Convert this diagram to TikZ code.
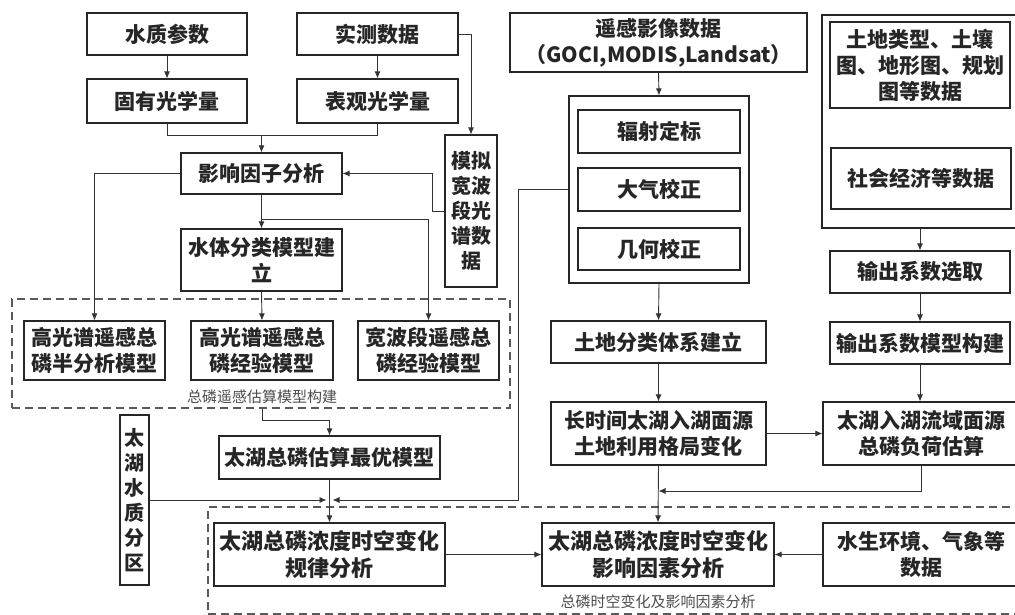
\documentclass[tikz,border=0pt]{standalone}
\usepackage{fontspec}
\setmainfont{Noto Sans CJK SC}
\usetikzlibrary{arrows.meta}
\tikzset{
  bx/.style={draw=black!85, line width=1.1pt, inner sep=0pt, align=center, text=black!85,
    font=\fontsize{21}{26}\selectfont\bfseries},
  bigt/.style={font=\fontsize{22}{27}\selectfont\bfseries},
  vt/.style={font=\fontsize{20}{25}\selectfont\bfseries},
  dbox/.style={draw=black!65, line width=1.1pt, dash pattern=on 8pt off 5pt, inner sep=0pt},
  lab/.style={font=\fontsize{15}{18}\selectfont, text=black!70, inner sep=0pt},
  ln/.style={draw=black!80, line width=0.9pt},
  arr/.style={ln, -{Latex[length=7pt,width=6pt]}},
}
\begin{document}
\begin{tikzpicture}[x=1pt,y=-1pt]
\useasboundingbox (0,0) rectangle (1015,615);
\clip (0,0) rectangle (1015,615);
\fill[white] (0,0) rectangle (1015,615);
% dashed groups
\node[dbox, minimum width=498, minimum height=109] (db1) at (261,353.5) {};
\node[lab] (lab1) at (262,397) {总磷遥感估算模型构建};
\node[dbox, minimum width=822, minimum height=107] (db2) at (619,560.5) {};
\node[lab] (lab2) at (658,602) {总磷时空变化及影响因素分析};
% left column
\node[bx, minimum width=160, minimum height=42] (sz) at (167,34) {水质参数};
\node[bx, minimum width=161, minimum height=42] (sc) at (377.5,34) {实测数据};
\node[bx, minimum width=160, minimum height=44] (gy) at (167,101) {固有光学量};
\node[bx, minimum width=161, minimum height=44] (bg) at (377.5,101) {表观光学量};
\node[bx, minimum width=161, minimum height=41] (yx) at (261.5,173.5) {影响因子分析};
\node[bx, vt, minimum width=52, minimum height=152] (mn) at (471,211) {模拟\\宽波\\段光\\谱数\\据};
\node[bx, minimum width=161, minimum height=62] (st) at (261.5,260) {水体分类模型建\\立};
\node[bx, minimum width=141, minimum height=59] (m1) at (94.5,350.5) {高光谱遥感总\\磷半分析模型};
\node[bx, minimum width=142, minimum height=59] (m2) at (262,350.5) {高光谱遥感总\\磷经验模型};
\node[bx, minimum width=141, minimum height=59] (m3) at (428.5,350.5) {宽波段遥感总\\磷经验模型};
\node[bx, minimum width=221, minimum height=43] (qf) at (329.5,457.5) {太湖总磷估算最优模型};
\node[bx, vt, minimum width=29, minimum height=170] (tq) at (134.5,500) {太\\湖\\水\\质\\分\\区};
\node[bx, bigt, minimum width=231, minimum height=63] (fw) at (329.5,554.5) {太湖总磷浓度时空变化\\规律分析};
% middle column
\node[bx, minimum width=297, minimum height=59] (rs) at (658.5,42.5) {遥感影像数据\\（GOCI,MODIS,Landsat）};
\node[bx, minimum width=180, minimum height=187] (ob) at (659,189.5) {};
\node[bx, minimum width=162, minimum height=43] (p1) at (659,131.5) {辐射定标};
\node[bx, minimum width=162, minimum height=43] (p2) at (659,189.5) {大气校正};
\node[bx, minimum width=162, minimum height=42] (p3) at (659,249) {几何校正};
\node[bx, minimum width=215, minimum height=42] (ld) at (658.5,342) {土地分类体系建立};
\node[bx, minimum width=215, minimum height=63] (lc) at (658.5,433.5) {长时间太湖入湖面源\\土地利用格局变化};
\node[bx, bigt, minimum width=232, minimum height=63] (yf) at (658,554.5) {太湖总磷浓度时空变化\\影响因素分析};
% right column
\node[bx, minimum width=208, minimum height=213] (rb) at (926,121.5) {};
\node[bx, minimum width=180, minimum height=86] (tt) at (920,65) {土地类型、土壤\\图、地形图、规划\\图等数据};
\node[bx, minimum width=180, minimum height=61] (sh) at (921,178.5) {社会经济等数据};
\node[bx, minimum width=180, minimum height=42] (oc1) at (920,272) {输出系数选取};
\node[bx, minimum width=180, minimum height=42] (oc2) at (920,343) {输出系数模型构建};
\node[bx, minimum width=197, minimum height=63] (tl) at (921.5,433.5) {太湖入湖流域面源\\总磷负荷估算};
\node[bx, minimum width=197, minimum height=63] (sw) at (921.5,554.5) {水生环境、气象等\\数据};
% junction coordinates
\coordinate (mj) at (261.5,135);
\coordinate (bj) at (261.5,219);
\coordinate (dj) at (262,420);
\coordinate (j) at (329.5,500);
\coordinate (k) at (658.5,491);
% connectors left
\draw[arr] (sz) -- (gy);
\draw[arr] (sc) -- (bg);
\draw[ln] (gy.south) -- ++(0,12) -| (bg.south);
\draw[arr] (mj) -- (yx.north);
\draw[arr] (sc.east) -| (mn.north);
\draw[arr] (mn.west) -- ++(-12,0) |- (yx.east);
\draw[arr] (yx.south) -- (st.north);
\draw[arr] (bj) -| (m3.north);
\draw[arr] (yx.west) -| (m1.north);
\draw[arr] (st.south) -- (m2.north);
\draw[arr] (db1.south -| dj) |- (qf.north |- dj) -- (qf.north);
\draw[ln] (qf.south) -- (j);
\draw[arr] (j) -- (fw.north);
\draw[arr, shorten >=3pt] (tq.east |- j) -- (j);
\draw[arr, shorten >=3pt] (ob.west) -- ++(-50,0) |- (j);
\draw[arr] (fw.east) -- (yf.west);
% connectors middle / right
\draw[arr] (rs.south) -- (ob.north);
\draw[arr] (ob.south) -- (ld.north);
\draw[arr] (ld.south) -- (lc.north);
\draw[arr] (lc.east) -- (tl.west);
\draw[arr] (lc.south) -- (yf.north);
\draw[arr] (tl.south) |- (k);
\draw[arr] (oc1.north |- rb.south) -- (oc1.north);
\draw[arr] (oc1.south) -- (oc2.north);
\draw[arr] (oc2.south) -- (oc2.south |- tl.north);
\draw[arr] (sw.west) -- (yf.east);
\end{tikzpicture}
\end{document}
